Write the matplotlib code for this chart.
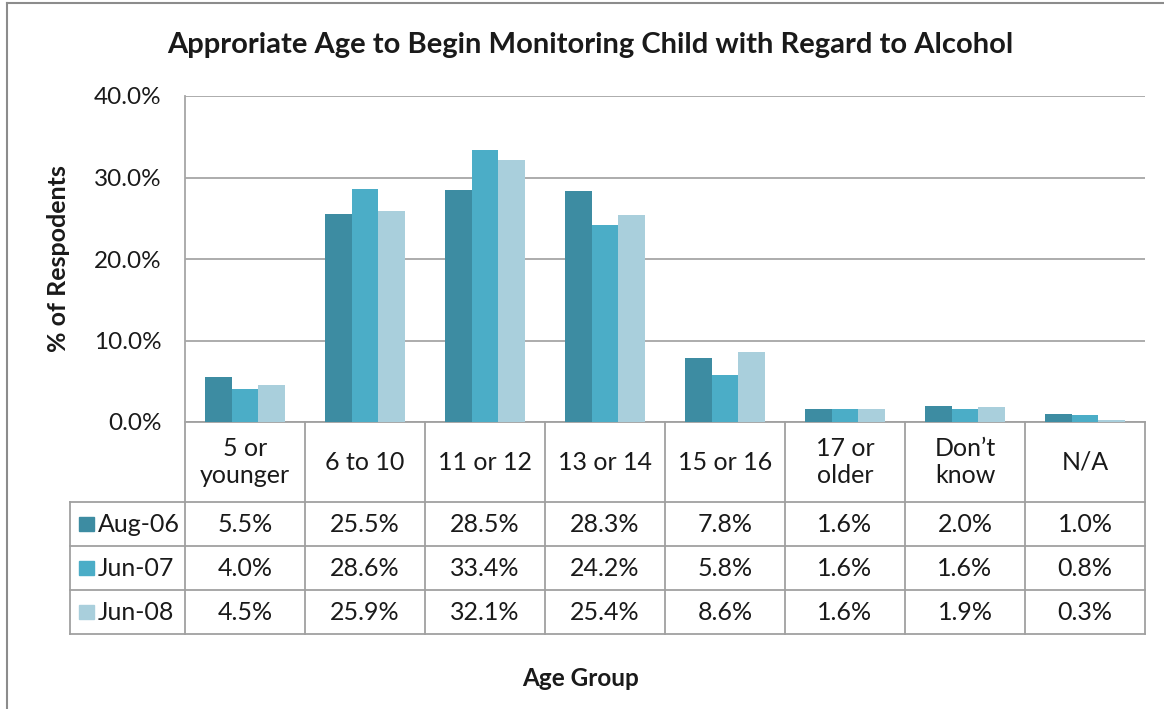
import numpy as np
import matplotlib.pyplot as plt
import matplotlib.transforms as mtransforms
from matplotlib.patches import Rectangle

categories = ["5 or\nyounger", "6 to 10", "11 or 12", "13 or 14", "15 or 16",
              "17 or\nolder", "Don\u2019t\nknow", "N/A"]
series_names = ["Aug-06", "Jun-07", "Jun-08"]
aug06 = [5.5, 25.5, 28.5, 28.3, 7.8, 1.6, 2.0, 1.0]
jun07 = [4.0, 28.6, 33.4, 24.2, 5.8, 1.6, 1.6, 0.8]
jun08 = [4.5, 25.9, 32.1, 25.4, 8.6, 1.6, 1.9, 0.3]
colors = ["#3D8CA2", "#4BADC7", "#A9CFDC"]

plt.rcParams["font.family"] = ["Lato", "DejaVu Sans"]

W, H = 1164, 709
fs = 18
tc = "#1a1a1a"
fig = plt.figure(figsize=(W / 100, H / 100), dpi=100)
ax = fig.add_axes([185 / W, 1 - 422 / H, (1145 - 185) / W, (422 - 96) / H])

x = np.arange(len(categories))
bw = 0.222
for i, (vals, c) in enumerate(zip([aug06, jun07, jun08], colors)):
    ax.bar(x + (i - 1) * bw, vals, bw, color=c, zorder=3)

ax.set_xlim(-0.5, len(categories) - 0.5)
ax.set_ylim(0, 40)
ax.set_yticks([0, 10, 20, 30, 40])
ax.set_yticklabels(["%.1f%%" % v for v in [0, 10, 20, 30, 40]], fontsize=17.5, color=tc)
ax.tick_params(axis="y", length=0, pad=17)
ax.set_xticks([])
ax.grid(axis="y", color="#A6A6A6", linewidth=1.3, zorder=0)
for s in ["top", "right", "bottom"]:
    ax.spines[s].set_visible(False)
ax.spines["left"].set_color("#A6A6A6")
ax.spines["left"].set_linewidth(1.3)

# data table under the plot
trans = mtransforms.blended_transform_factory(ax.transData, ax.transAxes)
ph = 422 - 96
row_edges = [0, -80 / ph, -124 / ph, -168 / ph, -212 / ph]
left_edge = -0.5 - (185 - 70) / 120
right_edge = len(categories) - 0.5
lc = "#A0A0A0"
lw = 1.3

ax.plot([-0.5, right_edge], [row_edges[0]] * 2, color=lc, lw=lw, transform=trans, clip_on=False)
for yy in row_edges[1:]:
    ax.plot([left_edge, right_edge], [yy, yy], color=lc, lw=lw, transform=trans, clip_on=False)
for xx in np.arange(-0.5, len(categories)):
    ax.plot([xx, xx], [row_edges[0], row_edges[-1]], color=lc, lw=lw, transform=trans, clip_on=False)
ax.plot([left_edge, left_edge], [row_edges[1], row_edges[-1]], color=lc, lw=lw, transform=trans, clip_on=False)

for xi, cat in zip(x, categories):
    ax.text(xi, (row_edges[0] + row_edges[1]) / 2, cat, transform=trans, ha="center", va="center",
            fontsize=fs, color=tc, linespacing=1.2)

for r, (name, vals, c) in enumerate(zip(series_names, [aug06, jun07, jun08], colors)):
    yc = (row_edges[r + 1] + row_edges[r + 2]) / 2
    ax.add_patch(Rectangle((left_edge + 0.075, yc - 0.023), 0.125, 0.046, color=c,
                           transform=trans, clip_on=False))
    ax.text(left_edge + 0.23, yc, name, transform=trans, ha="left", va="center",
            fontsize=fs, color=tc)
    for xi, v in zip(x, vals):
        ax.text(xi, yc, "%.1f%%" % v, transform=trans, ha="center", va="center",
                fontsize=fs, color=tc)

fig.text(590 / W, 1 - 45 / H, "Approriate Age to Begin Monitoring Child with Regard to Alcohol",
         ha="center", va="center", fontsize=21, fontweight="bold", color=tc)
fig.text(58 / W, 1 - 259 / H, "% of Respodents", rotation=90, ha="center", va="center",
         fontsize=18, fontweight="bold", color=tc)
fig.text(581 / W, 1 - 679 / H, "Age Group", ha="center", va="center", fontsize=17.5,
         fontweight="bold", color=tc)

# outer chart frame, only left and top edges show
fig.add_artist(plt.Line2D([7 / W, 7 / W], [0, 1 - 3 / H], color="#8C8C8C", lw=1.5))
fig.add_artist(plt.Line2D([7 / W, 1], [1 - 3 / H, 1 - 3 / H], color="#8C8C8C", lw=1.5))

fig.savefig("out.png", dpi=100)
